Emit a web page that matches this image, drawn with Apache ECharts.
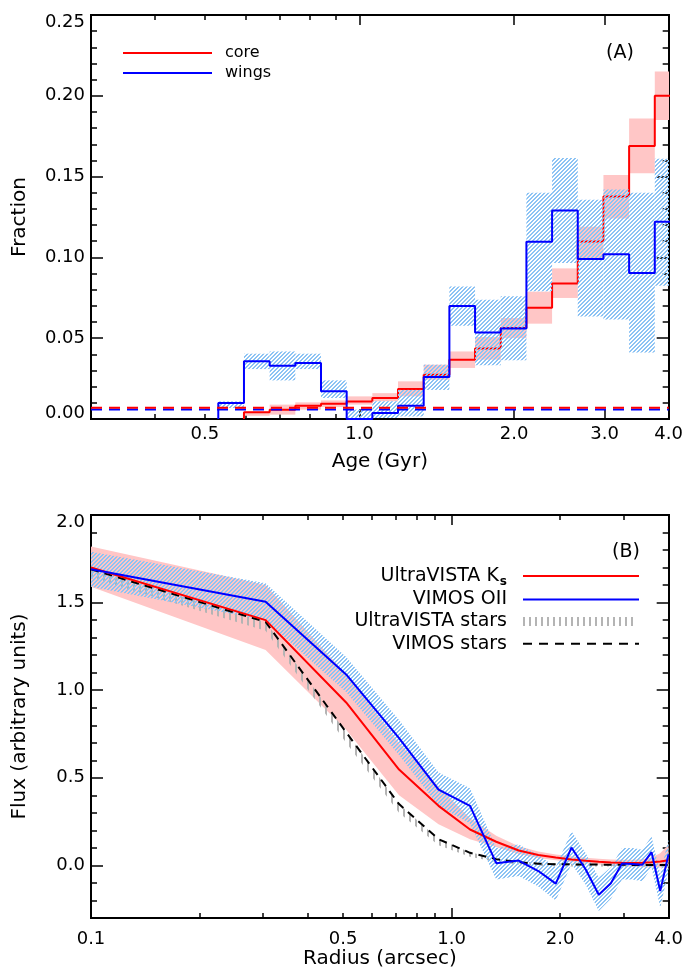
<!DOCTYPE html>
<html><head><meta charset="utf-8">
<script src="https://cdn.jsdelivr.net/npm/echarts@6/dist/echarts.min.js"></script>
<style>html,body{margin:0;padding:0;background:#fff}#c{width:686px;height:976px}</style>
</head><body><div id="c"></div>
<script>
// ===== Panel A: age histogram (bin centres in log10(age / Gyr)) =====
const ageBinCentersLog = [-0.25,-0.20,-0.15,-0.10,-0.05,0.00,0.05,0.10,0.15,0.20,0.25,0.30,0.35,0.40,0.45,0.50,0.55,0.60];
const ageBinHalfWidthLog = 0.025;
const coreFraction  = [0, 0.0041,0.0058,0.0082,0.0095,0.0109,0.0130,0.0186,0.0274,0.0367,0.0437,0.0563,0.0689,0.0839,0.1099,0.1377,0.1690,0.2000];
const coreLow       = [0, 0.0020,0.0027,0.0058,0.0074,0.0089,0.0110,0.0140,0.0243,0.0316,0.0367,0.0500,0.0590,0.0749,0.0996,0.1240,0.1520,0.1850];
const coreHigh      = [0, 0.0047,0.0089,0.0103,0.0115,0.0140,0.0160,0.0233,0.0336,0.0418,0.0507,0.0625,0.0788,0.0932,0.1190,0.1510,0.1860,0.2150];
const wingsFraction = [0.0099,0.0357,0.0330,0.0347,0.0171,0,0.0037,0.0082,0.0260,0.0700,0.0536,0.0560,0.1097,0.1290,0.0990,0.1020,0.0903,0.1220];
const wingsLow      = [0.0068,0.0309,0.0239,0.0309,0.0130,0.0006,0.0006,0.0016,0.0180,0.0577,0.0332,0.0363,0.0790,0.0965,0.0635,0.0615,0.0412,0.0825];
const wingsHigh     = [0.0109,0.0404,0.0418,0.0404,0.0239,0.0058,0.0110,0.0180,0.0336,0.0820,0.0738,0.0759,0.1400,0.1615,0.1357,0.1420,0.1400,0.1610];
const coreFloor = 0.0069;
const wingsFloor = 0.0059;
const ageRange = [0.3, 4.0];
const ageTickLabels = [0.5, 1.0, 2.0, 3.0, 4.0];
const ageMajorTicks = [1, 2, 3];
const ageMinorTicks = [0.4, 0.5, 0.6, 0.7, 0.8, 0.9];
const fracRange = [0, 0.25];
const fracTickLabels = [0, 0.05, 0.10, 0.15, 0.20, 0.25];
const fracMinorTicks = [0.01,0.02,0.03,0.04,0.06,0.07,0.08,0.09,0.11,0.12,0.13,0.14,0.16,0.17,0.18,0.19,0.21,0.22,0.23,0.24];

// ===== Panel B: radial flux profiles =====
const radiusArcsec = [0.10,0.305,0.51,0.715,0.92,1.125,1.33,1.535,1.74,1.945,2.15,2.355,2.56,2.765,2.97,3.175,3.38,3.585,3.79,3.995];
const ksFlux   = [1.70,1.40,0.93,0.547,0.34,0.205,0.135,0.085,0.060,0.045,0.034,0.027,0.021,0.017,0.015,0.014,0.015,0.018,0.023,0.030];
const ksLow    = [1.59,1.23,0.775,0.40,0.235,0.15,0.105,0.065,0.043,0.030,0.020,0.012,0.005,0.000,-0.005,-0.008,-0.010,-0.012,-0.012,-0.012];
const ksHigh   = [1.82,1.60,1.09,0.70,0.45,0.27,0.17,0.11,0.080,0.063,0.052,0.044,0.038,0.034,0.033,0.033,0.036,0.045,0.070,0.120];
const oiiFlux  = [1.69,1.505,1.09,0.727,0.433,0.340,0.013,0.028,-0.032,-0.104,0.102,-0.023,-0.167,-0.102,0.011,0.008,0.004,0.076,-0.146,0.063];
const oiiLow   = [1.59,1.40,0.99,0.63,0.34,0.24,-0.08,-0.06,-0.12,-0.20,0.01,-0.11,-0.26,-0.19,-0.08,-0.08,-0.09,-0.01,-0.24,-0.03];
const oiiHigh  = [1.79,1.61,1.19,0.83,0.53,0.44,0.10,0.12,0.06,-0.01,0.195,0.07,-0.07,-0.01,0.10,0.10,0.09,0.165,-0.05,0.15];
const starsUvLow  = [1.64,1.34,0.70,0.30,0.115,0.050,0.020,0.005,-0.002,-0.005,-0.006,-0.006,-0.006,-0.006,-0.006,-0.006,-0.006,-0.006,-0.006,-0.006];
const starsUvHigh = [1.69,1.39,0.76,0.35,0.150,0.075,0.040,0.022,0.015,0.012,0.010,0.009,0.009,0.008,0.008,0.008,0.008,0.008,0.008,0.008];
const starsVimos  = [1.69,1.39,0.76,0.35,0.150,0.072,0.036,0.018,0.010,0.007,0.006,0.005,0.005,0.004,0.004,0.003,0.003,0.003,0.002,0.002];
const radiusRange = [0.1, 4.0];
const radiusTickLabels = [0.1, 0.5, 1.0, 2.0, 4.0];
const radiusMajorTicks = [0.1, 1.0];
const radiusMinorTicks = [0.2,0.3,0.4,0.5,0.6,0.7,0.8,0.9,2,3];
const fluxRange = [-0.3, 2.0];
const fluxTickLabels = [0.0, 0.5, 1.0, 1.5, 2.0];
const fluxMinorTicks = [-0.2,-0.1,0.1,0.2,0.3,0.4,0.6,0.7,0.8,0.9,1.1,1.2,1.3,1.4,1.6,1.7,1.8,1.9];

// ===== styles =====
const FONT = "'DejaVu Sans', sans-serif";
const RED = '#ff0000', BLUE = '#0000ff', PINK = '#ffc6c6', HATCH = '#8cc3f4', GREY = '#b4b4b4';

// crisp pixel hatch "/" : period 4 px, 2 px wide stripes
function diagPattern(color, size, width) {
  const c = document.createElement('canvas'); c.width = c.height = size;
  const g = c.getContext('2d'); g.fillStyle = color;
  for (let x = 0; x < size; x++) for (let y = 0; y < size; y++) {
    if ((x + y) % size < width) g.fillRect(x, y, 1, 1);
  }
  return {image: c, repeat: 'repeat'};
}
function vertPattern(color, size, lw) {
  const c = document.createElement('canvas'); c.width = size; c.height = 4;
  const g = c.getContext('2d'); g.fillStyle = color; g.fillRect(1, 0, lw, 4);
  return {image: c, repeat: 'repeat'};
}
const blueHatch = diagPattern(HATCH, 4, 2);
const greyHatch = vertPattern(GREY, 6, 2);

const L = v => Math.log10(v);
const axisLine = {show: true, onZero: false, lineStyle: {color: '#000', width: 2}};
const tickStyle = {color: '#000', width: 1.5};
const labelFont = {fontFamily: FONT, fontSize: 18, color: '#000'};
const nameFont = {fontFamily: FONT, fontSize: 20, color: '#000'};

function logXAxes(grid, range, majors, minors, labels, name, margin, gap) {
  const base = {type: 'value', gridIndex: grid, min: L(range[0]), max: L(range[1]), splitLine: {show: false}, axisLine};
  const none = {show: false};
  return [
    Object.assign({}, base, {position: 'bottom',
      axisTick: {inside: true, length: 10, customValues: majors.map(L), lineStyle: tickStyle},
      axisLabel: Object.assign({customValues: labels.map(L), margin, formatter: v => Math.pow(10, v).toFixed(1)}, labelFont),
      name, nameLocation: 'middle', nameGap: gap, nameTextStyle: nameFont}),
    Object.assign({}, base, {position: 'bottom', axisTick: {inside: true, length: 5, customValues: minors.map(L), lineStyle: tickStyle}, axisLabel: none}),
    Object.assign({}, base, {position: 'top', axisTick: {inside: true, length: 10, customValues: majors.map(L), lineStyle: tickStyle}, axisLabel: none}),
    Object.assign({}, base, {position: 'top', axisTick: {inside: true, length: 5, customValues: minors.map(L), lineStyle: tickStyle}, axisLabel: none})
  ];
}
function linYAxes(grid, range, labels, minors, decimals, name, gap, shiftMin) {
  const base = {type: 'value', gridIndex: grid, min: range[0], max: range[1], splitLine: {show: false}, axisLine};
  const none = {show: false};
  return [
    Object.assign({}, base, {position: 'left',
      axisTick: {inside: true, length: 12, customValues: labels, lineStyle: tickStyle},
      axisLabel: Object.assign({customValues: labels, margin: 6,
        formatter: v => {
          const s = v.toFixed(decimals);
          if (Math.abs(v - range[1]) < 1e-9) return '{t|' + s + '}';
          if (shiftMin && Math.abs(v - range[0]) < 1e-9) return '{b|' + s + '}';
          return s;
        },
        rich: {t: Object.assign({padding: [15, 0, 0, 0]}, labelFont), b: Object.assign({padding: [0, 0, 12, 0]}, labelFont)}
      }, labelFont),
      name, nameLocation: 'middle', nameGap: gap, nameTextStyle: nameFont}),
    Object.assign({}, base, {position: 'left', axisTick: {inside: true, length: 6, customValues: minors, lineStyle: tickStyle}, axisLabel: none}),
    Object.assign({}, base, {position: 'right', axisTick: {inside: true, length: 12, customValues: labels, lineStyle: tickStyle}, axisLabel: none}),
    Object.assign({}, base, {position: 'right', axisTick: {inside: true, length: 6, customValues: minors, lineStyle: tickStyle}, axisLabel: none})
  ];
}

// ---- series builders ----
function stepPoints(vals) {
  const pts = []; let started = false;
  vals.forEach((v, i) => {
    const x0 = ageBinCentersLog[i] - ageBinHalfWidthLog, x1 = ageBinCentersLog[i] + ageBinHalfWidthLog;
    if (!started) { if (v === 0) return; started = true; pts.push([x0, 0]); }
    pts.push([x0, v], [x1, v]);
  });
  return pts;
}
function binBands(lo, hi, fill, z) {
  return {type: 'custom', xAxisIndex: 0, yAxisIndex: 0, clip: true, silent: true, z,
    data: ageBinCentersLog.map((c, i) => [c - ageBinHalfWidthLog, c + ageBinHalfWidthLog, lo[i], hi[i]]).filter(d => d[3] > d[2]),
    encode: {x: [0, 1], y: [2, 3]},
    renderItem(params, api) {
      const a = api.coord([api.value(0), api.value(3)]);
      const b = api.coord([api.value(1), api.value(2)]);
      return {type: 'rect', shape: {x: a[0], y: a[1], width: b[0] - a[0], height: b[1] - a[1]}, style: {fill}};
    }};
}
function radialBand(lo, hi, fill, z) {
  return {type: 'custom', xAxisIndex: 4, yAxisIndex: 4, clip: true, silent: true, z,
    data: [[L(radiusArcsec[0]), lo[0]]],
    renderItem(params, api) {
      const pts = [];
      radiusArcsec.forEach((r, i) => pts.push(api.coord([L(r), hi[i]])));
      for (let i = radiusArcsec.length - 1; i >= 0; i--) pts.push(api.coord([L(radiusArcsec[i]), lo[i]]));
      return {type: 'polygon', shape: {points: pts}, style: {fill}};
    }};
}
function radialLine(vals, color, width, dash, z, name) {
  return {type: 'line', name, xAxisIndex: 4, yAxisIndex: 4, symbol: 'none', clip: true, z, silent: true,
    data: radiusArcsec.map((r, i) => [L(r), vals[i]]),
    lineStyle: {color, width, type: dash || 'solid'}};
}

const legendFont = {fontFamily: FONT, fontSize: 16, color: '#000'};
const bLegendFont = '19px ' + FONT;
function txt(x, y, text, align, font, extra) {
  return {type: 'text', x, y, style: Object.assign({text, font, fill: '#000', align, verticalAlign: 'middle', textAlign: align, textVerticalAlign: 'middle'}, extra || {})};
}

const chart = echarts.init(document.getElementById('c'), null, {renderer: 'canvas'});
chart.setOption({
  animation: false,
  backgroundColor: '#fff',
  grid: [
    {left: 91, right: 17, top: 15, height: 404},
    {left: 91, right: 17, top: 515, height: 403}
  ],
  xAxis: [].concat(
    logXAxes(0, ageRange, ageMajorTicks, ageMinorTicks, ageTickLabels, 'Age (Gyr)', 6, 33),
    logXAxes(1, radiusRange, radiusMajorTicks, radiusMinorTicks, radiusTickLabels, 'Radius (arcsec)', 12, 26)
  ),
  yAxis: [].concat(
    linYAxes(0, fracRange, fracTickLabels, fracMinorTicks, 2, 'Fraction', 61, true),
    linYAxes(1, fluxRange, fluxTickLabels, fluxMinorTicks, 1, 'Flux (arbitrary units)', 61, false)
  ),
  legend: {
    data: ['core', 'wings'], orient: 'vertical', left: 123, top: 45, padding: 0,
    icon: 'rect', itemWidth: 89, itemHeight: 2, itemGap: 4,
    selectedMode: false, textStyle: Object.assign({padding: [0, 0, 0, 8]}, legendFont)
  },
  series: [
    // Panel A
    binBands(coreLow, coreHigh, PINK, 1),
    {type: 'line', name: 'core', xAxisIndex: 0, yAxisIndex: 0, symbol: 'none', clip: true, z: 2, silent: true,
      data: stepPoints(coreFraction), lineStyle: {color: RED, width: 2}, itemStyle: {color: RED}},
    binBands(wingsLow, wingsHigh, blueHatch, 3),
    {type: 'line', name: 'wings', xAxisIndex: 0, yAxisIndex: 0, symbol: 'none', clip: true, z: 4, silent: true,
      data: stepPoints(wingsFraction), lineStyle: {color: BLUE, width: 2}, itemStyle: {color: BLUE}},
    {type: 'line', xAxisIndex: 0, yAxisIndex: 0, symbol: 'none', z: 5, silent: true,
      data: [[L(ageRange[0]), wingsFloor], [L(ageRange[1]), wingsFloor]], lineStyle: {color: BLUE, width: 2, type: [11, 7]}},
    {type: 'line', xAxisIndex: 0, yAxisIndex: 0, symbol: 'none', z: 6, silent: true,
      data: [[L(ageRange[0]), coreFloor], [L(ageRange[1]), coreFloor]], lineStyle: {color: RED, width: 2, type: [11, 7]}},
    // Panel B
    radialBand(ksLow, ksHigh, PINK, 1),
    radialBand(starsUvLow, starsUvHigh, greyHatch, 2),
    radialBand(oiiLow, oiiHigh, blueHatch, 3),
    radialLine(starsVimos, '#000', 2, [8, 6], 4, 'VIMOS stars'),
    radialLine(ksFlux, RED, 2, null, 5, 'UltraVISTA Ks'),
    radialLine(oiiFlux, BLUE, 2, null, 6, 'VIMOS OII')
  ],
  graphic: [
    txt(620, 53, '(A)', 'center', '19px ' + FONT),
    txt(626, 552, '(B)', 'center', bLegendFont),
    txt(507, 576, 'UltraVISTA K{s|s}', 'right', bLegendFont,
      {rich: {s: {fontFamily: FONT, fontSize: 12, fontWeight: 'bold', fill: '#000', padding: [11, 0, 0, 1]}}}),
    {type: 'line', shape: {x1: 523, y1: 576, x2: 639, y2: 576}, style: {stroke: RED, lineWidth: 2}},
    txt(507, 599.5, 'VIMOS OII', 'right', bLegendFont),
    {type: 'line', shape: {x1: 523, y1: 599.5, x2: 639, y2: 599.5}, style: {stroke: BLUE, lineWidth: 2}},
    txt(507, 621.5, 'UltraVISTA stars', 'right', bLegendFont),
    {type: 'rect', shape: {x: 523, y: 617, width: 114, height: 9}, style: {fill: greyHatch}},
    txt(507, 643.7, 'VIMOS stars', 'right', bLegendFont),
    {type: 'line', shape: {x1: 523, y1: 643.7, x2: 639, y2: 643.7}, style: {stroke: '#000', lineWidth: 2, lineDash: [9, 7]}}
  ]
});
</script>
</body></html>
